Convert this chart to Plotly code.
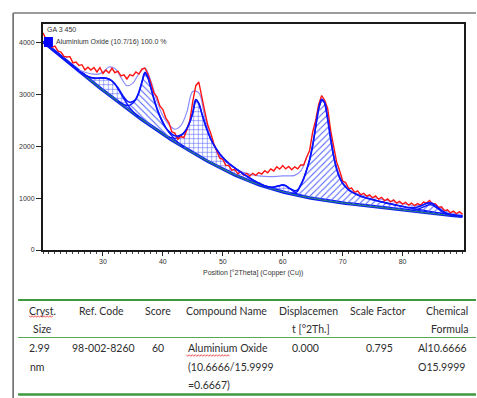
import numpy as np
import plotly.graph_objects as go

# ---------------------------------------------------------------------------
# XRD scan data (Cu K-alpha), 0.5 degree steps from 20 to 90 degrees 2-theta
# ---------------------------------------------------------------------------
two_theta = np.round(np.arange(20.0, 90.01, 0.5), 1)

observed = [
    4190, 4065, 4020, 3910, 3935, 3835, 3820, 3735, 3725, 3730,
    3610, 3625, 3560, 3575, 3475, 3525, 3470, 3520, 3435, 3520,
    3405, 3470, 3415, 3505, 3420, 3450, 3360, 3380, 3300, 3385,
    3360, 3435, 3395, 3490, 3510, 3390, 3225, 3030, 2955, 2780,
    2710, 2545, 2460, 2280, 2255, 2135, 2190, 2170, 2315, 2500,
    2870, 3170, 3240, 2925, 2670, 2405, 2250, 2050, 1925, 1770,
    1750, 1635, 1630, 1540, 1555, 1470, 1510, 1445, 1480, 1425,
    1480, 1440, 1495, 1465, 1530, 1490, 1565, 1525, 1605, 1560,
    1630, 1565, 1610, 1550, 1605, 1565, 1640, 1640, 1790, 1925,
    2280, 2500, 2810, 2980, 2890, 2730, 2305, 2030, 1695, 1530,
    1330, 1300, 1185, 1195, 1110, 1140, 1065, 1095, 1040, 1065,
    1005, 1045, 980, 1015, 950, 985, 930, 965, 905, 940,
    885, 920, 865, 905, 855, 895, 865, 925, 905, 955,
    890, 890, 820, 835, 760, 775, 715, 750, 700, 740,
    690,
]

background = [
    4020, 3972, 3925, 3877, 3830, 3782, 3735, 3687, 3640, 3592,
    3545, 3497, 3450, 3403, 3357, 3311, 3265, 3219, 3173, 3127,
    3082, 3037, 2992, 2947, 2903, 2859, 2815, 2771, 2728, 2685,
    2643, 2600, 2558, 2516, 2475, 2433, 2392, 2352, 2312, 2273,
    2234, 2196, 2158, 2121, 2084, 2048, 2012, 1977, 1942, 1908,
    1874, 1840, 1807, 1775, 1743, 1711, 1680, 1649, 1619, 1589,
    1560, 1531, 1503, 1475, 1448, 1422, 1397, 1372, 1348, 1325,
    1303, 1281, 1260, 1240, 1221, 1203, 1185, 1168, 1152, 1136,
    1121, 1106, 1092, 1078, 1065, 1052, 1040, 1028, 1017, 1006,
    996, 986, 976, 967, 958, 949, 940, 932, 924, 916,
    908, 900, 893, 886, 879, 872, 865, 858, 851, 844,
    837, 830, 823, 816, 809, 803, 797, 790, 784, 777,
    771, 764, 758, 751, 745, 738, 732, 725, 719, 712,
    706, 700, 694, 688, 682, 676, 670, 664, 658, 652,
    646,
]

# fitted peak profiles: (first angle, heights above background every 0.5 deg, hatch)
peak_a_start, peak_a = 26.5, [10, 20, 35, 60, 95, 140, 190, 240, 280, 305,
                              315, 300, 260, 200, 140, 90, 55, 30, 15, 5]
peak_b_start, peak_b = 32.5, [10, 20, 35, 60, 110, 190, 300, 480, 720, 950,
                              900, 740, 560, 420, 310, 220, 160, 110, 75, 50,
                              30, 15, 5]
peak_c_start, peak_c = 41.0, [20, 40, 70, 120, 190, 280, 400, 560, 780, 1060,
                              1020, 860, 700, 570, 460, 380, 315, 265, 225, 195,
                              170, 150, 135, 120, 105, 90, 75, 62, 50, 40,
                              30, 22, 15, 8]
peak_d_start, peak_d = 57.5, [10, 25, 45, 75, 105, 135, 135, 105, 75, 45, 25, 10]
peak_e_start, peak_e = 61.5, [15, 30, 80, 200, 350, 530, 740, 1020, 1400, 1750,
                              1940, 1880, 1580, 1200, 880, 640, 480, 380, 315, 270,
                              235, 210, 190, 175, 162, 150, 142, 135, 128, 120,
                              113, 105, 98, 92, 86, 81, 75, 70, 65, 60,
                              55, 50, 46, 42, 38, 35, 32, 29, 26, 22,
                              19, 16, 14, 12, 9, 7, 6, 5]
peak_f_start, peak_f = 81.5, [10, 25, 45, 75, 110, 145, 165, 160, 130, 90,
                              55, 30, 15, 5]

peaks = [
    (peak_a_start, peak_a, "+"),
    (peak_b_start, peak_b, "\\"),
    (peak_c_start, peak_c, "+"),
    (peak_d_start, peak_d, "+"),
    (peak_e_start, peak_e, "/"),
    (peak_f_start, peak_f, "/"),
]

# second (light) calculated profile, 1 degree steps
light_a_x = list(range(26, 65))
light_a = [3470, 3430, 3400, 3390, 3430, 3530, 3500, 3330, 3170, 3220,
           3400, 3510, 3260, 2880, 2590, 2420, 2330, 2400, 2660, 3060,
           3030, 2560, 2160, 1910, 1760, 1660, 1580, 1520, 1480, 1450,
           1430, 1420, 1415, 1420, 1430, 1430, 1440, 1520, 1800]
light_b_x = list(range(69, 91))
light_b = [1600, 1300, 1170, 1110, 1070, 1040, 1015, 990, 965, 940,
           915, 895, 875, 860, 860, 895, 900, 830, 760, 720, 700, 685]

# result table
table_header = [
    ("Cryst.", 42, 310.7, "center"), ("Size", 42, 329, "center"),
    ("Ref. Code", 102, 310.7, "center"),
    ("Score", 159, 310.7, "center"),
    ("Compound Name", 227, 310.7, "center"),
    ("Displacemen", 309.5, 310.7, "center"), ("t [°2Th.]", 312, 329, "center"),
    ("Scale Factor", 380, 310.7, "center"),
    ("Chemical", 472, 310.7, "right"), ("Formula", 472, 329, "right"),
]
table_row = [
    ("2.99", 27, 348.3, "left"), ("nm", 28, 366.7, "left"),
    ("98-002-8260", 104, 348.3, "center"),
    ("60", 159, 348.3, "center"),
    ("Aluminium Oxide", 187, 348.3, "left"),
    ("(10.6666/15.9999", 187, 366.7, "left"),
    ("=0.6667)", 187, 385, "left"),
    ("0.000", 307, 348.3, "center"),
    ("0.795", 381, 348.3, "center"),
    ("Al10.6666", 418, 348.3, "left"), ("O15.9999", 418, 366.7, "left"),
]

# ---------------------------------------------------------------------------
bg = np.array(background, dtype=float)
calc = bg.copy()
fig = go.Figure()

BLUE = "#0a14ff"
HATCH = "#4a5cff"

# background line with the blue baseline on top
fig.add_trace(go.Scatter(x=two_theta, y=bg, mode="lines",
                         line=dict(color=BLUE, width=3.2), hoverinfo="skip"))
fig.add_trace(go.Scatter(x=two_theta, y=bg, mode="lines",
                         line=dict(color="#23866a", width=1.2), hoverinfo="skip"))

for start, heights, shape in peaks:
    i0 = int(round((start - 20.0) / 0.5))
    i1 = i0 + len(heights)
    xs = two_theta[i0:i1]
    base = bg[i0:i1]
    top = base + np.array(heights, dtype=float)
    calc[i0:i1] += np.array(heights, dtype=float)
    fig.add_trace(go.Scatter(x=xs, y=base, mode="lines",
                             line=dict(width=0, color=BLUE), hoverinfo="skip"))
    fig.add_trace(go.Scatter(
        x=xs, y=top, mode="lines", fill="tonexty",
        fillcolor="rgba(255,255,255,0)",
        fillpattern=dict(shape=shape, size=4.5, solidity=0.22,
                         fgcolor=HATCH, bgcolor="rgba(255,255,255,0)",
                         fillmode="replace"),
        line=dict(color=BLUE, width=1.3), hoverinfo="skip"))

fig.add_trace(go.Scatter(x=light_a_x, y=light_a, mode="lines",
                         line=dict(color="#8c8cff", width=1.2, shape="spline"),
                         hoverinfo="skip"))
fig.add_trace(go.Scatter(x=light_b_x, y=light_b, mode="lines",
                         line=dict(color="#9a9aff", width=1.2, shape="spline"),
                         hoverinfo="skip"))

fig.add_trace(go.Scatter(x=two_theta, y=observed, mode="lines",
                         line=dict(color="#ff1414", width=1.4), hoverinfo="skip"))
fig.add_trace(go.Scatter(x=two_theta, y=calc, mode="lines",
                         line=dict(color=BLUE, width=1.7, shape="spline"),
                         hoverinfo="skip"))

# ---------------------------------------------------------------------------
W_FIG, H_FIG = 477, 398
L, T, R, B = 43, 24, 466, 250
PW, PH = R - L, B - T


def px(x):
    return (x - L) / PW


def py(y):
    return (B - y) / PH


axis_font = dict(family="Liberation Sans, Arial, sans-serif", size=7, color="#333333")

fig.update_layout(
    width=W_FIG, height=H_FIG,
    margin=dict(l=L, r=W_FIG - R, t=T, b=H_FIG - B, pad=0),
    paper_bgcolor="white", plot_bgcolor="white",
    showlegend=False,
    font=axis_font,
    xaxis=dict(range=[20, 90.25], tickvals=[30, 40, 50, 60, 70, 80],
               ticks="outside", ticklen=4, tickwidth=1, tickcolor="#222",
               minor=dict(dtick=1, ticks="outside", ticklen=2, tickcolor="#444"),
               showline=True, linewidth=2, linecolor="#1a1a1a", mirror=True,
               showgrid=False, zeroline=False, tickfont=axis_font),
    yaxis=dict(range=[0, 4360], tickvals=[0, 1000, 2000, 3000, 4000],
               ticks="outside", ticklen=5, tickwidth=1, tickcolor="#222",
               showline=True, linewidth=2, linecolor="#1a1a1a", mirror=True,
               showgrid=False, zeroline=False, tickfont=axis_font),
)

shapes = []
# outer frame
shapes.append(dict(type="line", xref="paper", yref="paper", x0=px(13), x1=px(13),
                   y0=py(13), y1=py(399), line=dict(color="#6a6a6a", width=1.6)))
shapes.append(dict(type="line", xref="paper", yref="paper", x0=px(13), x1=px(478),
                   y0=py(13), y1=py(13), line=dict(color="#7a7a7a", width=1.6)))
# legend marker
shapes.append(dict(type="rect", xref="paper", yref="paper", x0=px(44), x1=px(53),
                   y0=py(47), y1=py(37), fillcolor="#0000ff", line=dict(width=0)))
# table rules
shapes.append(dict(type="line", xref="paper", yref="paper", x0=px(18), x1=px(478),
                   y0=py(300), y1=py(300), line=dict(color="#3d9a3d", width=2)))
shapes.append(dict(type="line", xref="paper", yref="paper", x0=px(18), x1=px(478),
                   y0=py(337.5), y1=py(337.5), line=dict(color="#58a858", width=1)))
shapes.append(dict(type="line", xref="paper", yref="paper", x0=px(18), x1=px(478),
                   y0=py(394.5), y1=py(394.5), line=dict(color="#3d9a3d", width=2.5)))


# wavy spell-check underlines
def squiggle(x0, x1, y):
    pts = []
    x, k = x0, 0
    while x <= x1:
        yy = y + (0.8 if k % 2 else -0.8)
        pts.append(f"{px(x):.5f},{py(yy):.5f}")
        x += 1.5
        k += 1
    return "M " + " L ".join(pts)


for x0, x1, y in [(29, 54, 316.5), (187, 231, 355.5)]:
    shapes.append(dict(type="path", xref="paper", yref="paper", path=squiggle(x0, x1, y),
                       line=dict(color="#e83030", width=0.8)))
fig.update_layout(shapes=shapes)

ann = []
ann.append(dict(text="Position [°2Theta] (Copper (Cu))", x=px(254), y=py(272.5),
                xanchor="center", yanchor="middle", font=axis_font))
ann.append(dict(text="GA 3 450", x=px(45), y=py(29.5), xanchor="left",
                yanchor="middle", font=axis_font))
ann.append(dict(text="Aluminium Oxide (10.7/16) 100.0 %", x=px(54), y=py(42.5),
                xanchor="left", yanchor="middle", font=axis_font))

table_font = dict(family="Lato, Open Sans, sans-serif", size=10.5, color="#2e2e2e")
for text, x, y, anchor in table_header + table_row:
    ann.append(dict(text=text, x=px(x), y=py(y), xanchor=anchor, yanchor="middle",
                    font=table_font))
for a in ann:
    a.update(xref="paper", yref="paper", showarrow=False)
fig.update_layout(annotations=ann)

fig.write_html("out.html")
